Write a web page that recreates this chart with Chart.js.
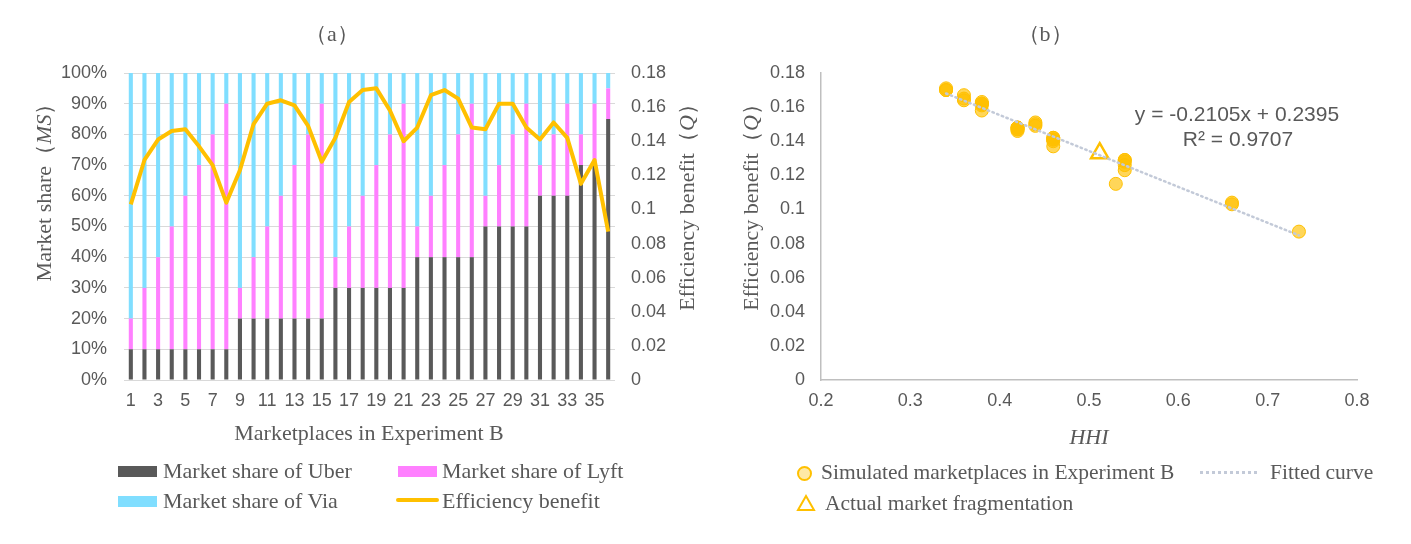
<!DOCTYPE html>
<html>
<head>
<meta charset="utf-8">
<script src="https://cdn.jsdelivr.net/npm/chart.js@4.4.1/dist/chart.umd.min.js"></script>
<style>
  body { margin: 0; background: #fff; }
  #wrap { position: relative; width: 1411px; height: 544px; overflow: hidden; }
  canvas { position: absolute; top: 0; }
  .lg { position: absolute; font: 22px "Liberation Serif", "Times New Roman", serif; color: #595959;
        height: 30px; line-height: 30px; white-space: nowrap; }
  .sw { position: absolute; }
</style>
</head>
<body>
<div id="wrap">
  <canvas id="chartA" width="705" height="544" style="left:0"></canvas>
  <canvas id="chartB" width="706" height="544" style="left:705px"></canvas>

  <!-- legend (a) -->
  <div class="sw" style="left:118px;top:466px;width:39px;height:11px;background:#595959"></div>
  <div class="lg" style="left:163px;top:456px">Market share of Uber</div>
  <div class="sw" style="left:398px;top:466px;width:39px;height:11px;background:#FF80FF"></div>
  <div class="lg" style="left:442px;top:456px">Market share of Lyft</div>
  <div class="sw" style="left:118px;top:496px;width:39px;height:11px;background:#80DEFF"></div>
  <div class="lg" style="left:163px;top:486px">Market share of Via</div>
  <div class="sw" style="left:396px;top:498px;width:43px;height:4px;border-radius:2px;background:#FFC000"></div>
  <div class="lg" style="left:442px;top:486px">Efficiency benefit</div>

  <!-- legend (b) -->
  <div class="sw" style="left:797px;top:466px;width:11px;height:11px;border:2px solid #FFC000;border-radius:50%;background:rgba(255,192,0,0.35)"></div>
  <div class="lg" style="left:821px;top:457px;font-size:21.5px">Simulated marketplaces in Experiment B</div>
  <div class="sw" style="left:1200px;top:471px;width:57px;height:0;border-top:3px dotted #C3CAD8"></div>
  <div class="lg" style="left:1270px;top:457px;font-size:21.5px">Fitted curve</div>
  <svg class="sw" style="left:796px;top:494px" width="20" height="18"><polygon points="10,2 18,16 2,16" fill="none" stroke="#FFC000" stroke-width="2"/></svg>
  <div class="lg" style="left:825px;top:488px;font-size:21.5px">Actual market fragmentation</div>
</div>

<script>
// marketplaces in experiment B
const marketplaces = ['1','2','3','4','5','6','7','8','9','10','11','12','13','14','15','16','17','18',
                      '19','20','21','22','23','24','25','26','27','28','29','30','31','32','33','34','35','36'];
// market shares (%)
const uberShare = [10,10,10,10,10,10,10,10,20,20,20,20,20,20,20,30,30,30,30,30,30,40,40,40,40,40,50,50,50,50,60,60,60,70,70,85];
const lyftShare = [10,20,30,40,50,60,70,80,10,20,30,40,50,60,70,10,20,30,40,50,60,10,20,30,40,50,10,20,30,40,10,20,30,10,20,10];
const viaShare  = [80,70,60,50,40,30,20,10,70,60,50,40,30,20,10,60,50,40,30,20,10,50,40,30,20,10,40,30,20,10,30,20,10,20,10,5];
// efficiency benefit Q
const efficiency = [0.103,0.129,0.141,0.146,0.147,0.137,0.126,0.104,0.123,0.150,0.162,0.164,0.161,0.149,0.128,0.142,0.163,0.170,
                    0.171,0.158,0.140,0.148,0.167,0.170,0.165,0.148,0.147,0.162,0.162,0.148,0.141,0.151,0.142,0.115,0.129,0.087];
// HHI of each marketplace
const hhi = [0.66,0.54,0.46,0.42,0.42,0.46,0.54,0.66,0.54,0.44,0.38,0.36,0.38,0.44,0.54,0.46,0.38,0.34,
             0.34,0.38,0.46,0.42,0.36,0.34,0.36,0.42,0.42,0.38,0.38,0.42,0.46,0.44,0.46,0.53,0.54,0.735];
// fitted curve ends and actual market
const fittedX = [0.34, 0.735];
const fittedY = [0.168, 0.0848];
const actualX = [0.512];
const actualY = [0.133];

const grey = '#595959';
const tickFont = { family: '"Liberation Sans", Arial, sans-serif', size: 18 };
const serif = '"Liberation Serif", "Times New Roman", serif';

function drawRich(ctx, parts, x, y, rotate) {
    ctx.save();
    ctx.translate(x, y);
    if (rotate) ctx.rotate(-Math.PI / 2);
    let total = 0;
    parts.forEach(p => { ctx.font = p.font; p.w = ctx.measureText(p.text).width; total += p.w; });
    let cx = -total / 2;
    ctx.textBaseline = 'middle';
    ctx.textAlign = 'left';
    ctx.fillStyle = grey;
    parts.forEach(p => { ctx.font = p.font; ctx.fillText(p.text, cx, 0); cx += p.w; });
    ctx.restore();
}

function textPlugin(items) {
    return {
        id: 'texts',
        afterDraw(chart) {
            items.forEach(it => drawRich(chart.ctx, it.parts, it.x, it.y, it.rotate));
        }
    };
}

const n22 = '22px ' + serif, i22 = 'italic 22px ' + serif;

// ---- (a) stacked shares + efficiency line
new Chart(document.getElementById('chartA'), {
    data: {
        labels: marketplaces,
        datasets: [
            { type: 'bar', label: 'Market share of Uber', data: uberShare, backgroundColor: '#595959', order: 1 },
            { type: 'bar', label: 'Market share of Lyft', data: lyftShare, backgroundColor: '#FF80FF', order: 1 },
            { type: 'bar', label: 'Market share of Via', data: viaShare, backgroundColor: '#80DEFF', order: 1 },
            { type: 'line', label: 'Efficiency benefit', data: efficiency, yAxisID: 'y1', borderColor: '#FFC000',
              borderWidth: 4, pointRadius: 0, tension: 0, order: 0, borderJoinStyle: 'round' }
        ]
    },
    options: {
        responsive: false,
        animation: false,
        layout: { padding: { top: 73, left: 0, right: 0, bottom: 0 } },
        datasets: { bar: { barPercentage: 0.3, categoryPercentage: 1 } },
        plugins: { legend: { display: false }, tooltip: { enabled: false } },
        scales: {
            x: {
                stacked: true,
                grid: { display: false, drawTicks: false },
                border: { display: false },
                ticks: {
                    color: grey, font: tickFont, padding: 10, autoSkip: false, maxRotation: 0,
                    callback: function (v, i) { return i % 2 === 0 ? this.getLabelForValue(v) : ''; }
                },
                afterFit: s => { s.height = 164; }
            },
            y: {
                stacked: true, min: 0, max: 100,
                ticks: { stepSize: 10, color: grey, font: tickFont, padding: 17, callback: v => v + '%' },
                grid: { color: '#D9D9D9', drawTicks: false },
                border: { display: false },
                afterFit: s => { s.width = 124; }
            },
            y1: {
                position: 'right', min: 0, max: 0.18,
                ticks: { stepSize: 0.02, color: grey, font: tickFont, padding: 16, callback: v => String(+v.toFixed(2)) },
                grid: { drawOnChartArea: false, drawTicks: false },
                border: { display: false },
                afterFit: s => { s.width = 90; }
            }
        }
    },
    plugins: [textPlugin([
        { parts: [{ text: '（a）', font: n22 }], x: 332, y: 35 },
        { parts: [{ text: 'Market share（', font: n22 }, { text: 'MS', font: i22 }, { text: '）', font: n22 }], x: 45, y: 187, rotate: true },
        { parts: [{ text: 'Efficiency benefit（', font: n22 }, { text: 'Q', font: i22 }, { text: '）', font: n22 }], x: 688, y: 202, rotate: true },
        { parts: [{ text: 'Marketplaces in Experiment B', font: n22 }], x: 369, y: 434 }
    ])]
});

// ---- (b) HHI vs efficiency
const eqFont = '21px "Liberation Sans", Arial, sans-serif';
new Chart(document.getElementById('chartB'), {
    type: 'scatter',
    data: {
        datasets: [
            { label: 'Simulated marketplaces in Experiment B', data: hhi.map((x, i) => ({ x: x, y: efficiency[i] })),
              backgroundColor: 'rgba(255,192,0,0.65)', borderColor: '#FFC000', borderWidth: 1, pointRadius: 6.5, order: 2 },
            { type: 'line', label: 'Fitted curve', data: fittedX.map((x, i) => ({ x: x, y: fittedY[i] })),
              borderColor: '#C3CAD8', borderWidth: 2.5, borderDash: [1.5, 3.5], borderCapStyle: 'round', pointRadius: 0, order: 0 },
            { label: 'Actual market fragmentation', data: actualX.map((x, i) => ({ x: x, y: actualY[i] })),
              pointStyle: 'triangle', pointRadius: 10, backgroundColor: 'rgba(255,255,255,0)', borderColor: '#FFC000', borderWidth: 2.5, order: 1 }
        ]
    },
    options: {
        responsive: false,
        animation: false,
        layout: { padding: { top: 73, left: 0, right: 54, bottom: 0 } },
        plugins: { legend: { display: false }, tooltip: { enabled: false } },
        scales: {
            x: {
                min: 0.2, max: 0.8,
                ticks: { stepSize: 0.1, color: grey, font: tickFont, padding: 10, callback: v => v.toFixed(1) },
                grid: { display: false, drawTicks: false },
                border: { color: '#BFBFBF', width: 1.5 },
                afterFit: s => { s.height = 164; }
            },
            y: {
                min: 0, max: 0.18,
                ticks: { stepSize: 0.02, color: grey, font: tickFont, padding: 16, callback: v => String(+v.toFixed(2)) },
                grid: { display: false, drawTicks: false },
                border: { color: '#BFBFBF', width: 1.5 },
                afterFit: s => { s.width = 116; }
            }
        }
    },
    plugins: [textPlugin([
        { parts: [{ text: '（b）', font: n22 }], x: 340, y: 35 },
        { parts: [{ text: 'Efficiency benefit（', font: n22 }, { text: 'Q', font: i22 }, { text: '）', font: n22 }], x: 47, y: 202, rotate: true },
        { parts: [{ text: 'HHI', font: i22 }], x: 384, y: 438 },
        { parts: [{ text: 'y = -0.2105x + 0.2395', font: eqFont }], x: 532, y: 115 },
        { parts: [{ text: 'R² = 0.9707', font: eqFont }], x: 533, y: 140 }
    ])]
});
</script>
</body>
</html>
